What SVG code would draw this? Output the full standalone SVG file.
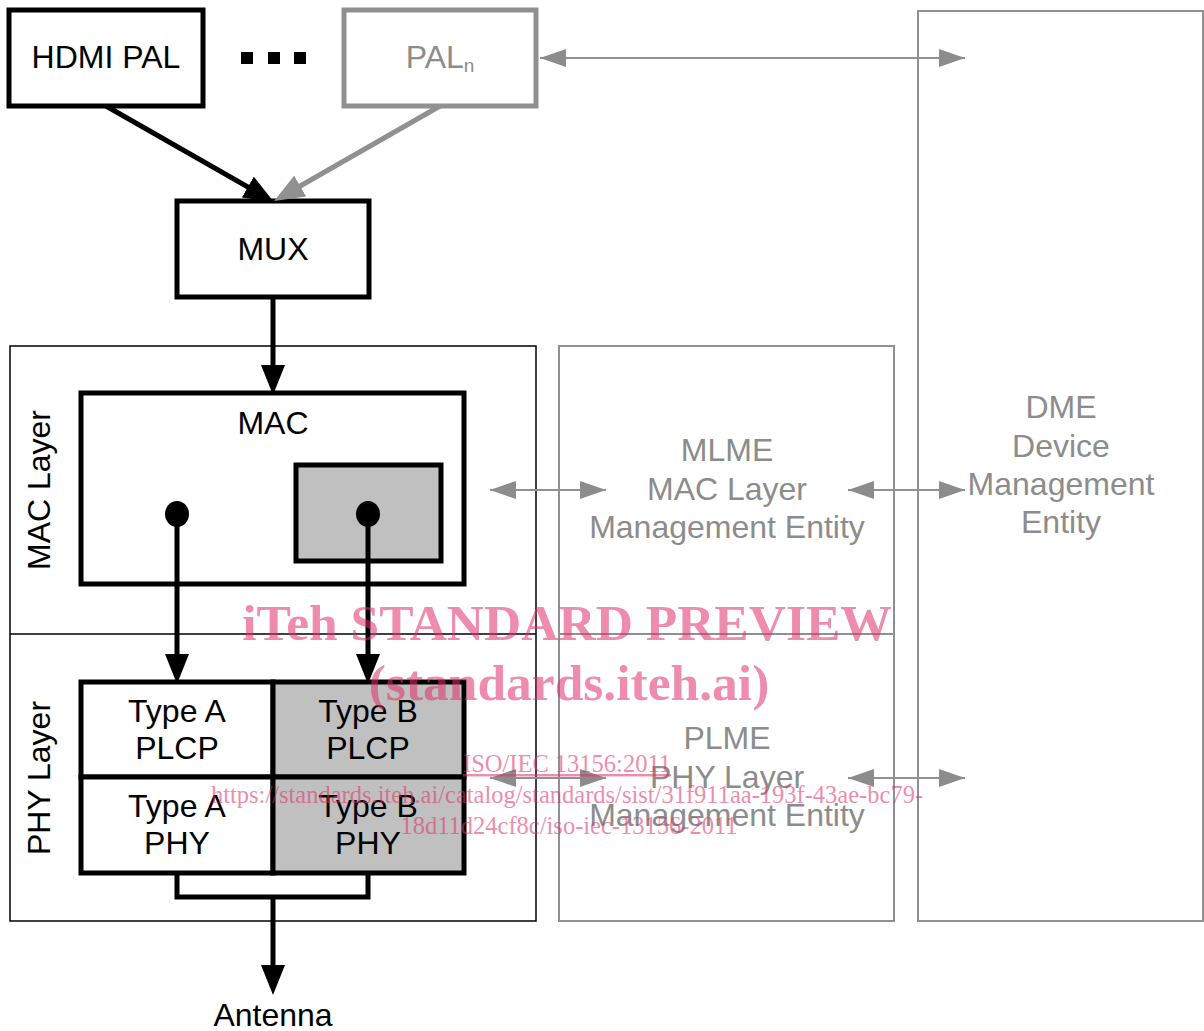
<svg xmlns="http://www.w3.org/2000/svg" width="1204" height="1031" viewBox="0 0 1204 1031">
<style>
.t{font-family:"Liberation Sans",Arial,sans-serif;font-size:32px;text-anchor:middle;fill:#000}
.g{fill:#8c8c8c}
.box{fill:#fff;stroke:#000;stroke-width:5}
.gbox{fill:#fff;stroke:#909090;stroke-width:2}
.shade{fill:#c0c0c0}
.thin{fill:none;stroke:#000;stroke-width:1.5}
.bl{fill:none;stroke:#000;stroke-width:5}
.gl{fill:none;stroke:#909090;stroke-width:2}
.wm{font-family:"Liberation Serif","Times New Roman",serif;fill:#e0306a;opacity:0.55;text-anchor:middle}
</style>
<defs>
<marker id="ab" markerUnits="userSpaceOnUse" markerWidth="30" markerHeight="24" refX="14" refY="12" orient="auto" viewBox="0 0 30 24"><path d="M0,0 L30,12 L0,24 z" fill="#000"/></marker>
<marker id="ag" markerUnits="userSpaceOnUse" markerWidth="30" markerHeight="24" refX="14" refY="12" orient="auto" viewBox="0 0 30 24"><path d="M0,0 L30,12 L0,24 z" fill="#909090"/></marker>
<marker id="ah" markerUnits="userSpaceOnUse" markerWidth="26" markerHeight="18" refX="26" refY="9" orient="auto-start-reverse" viewBox="0 0 26 18"><path d="M0,0 L26,9 L0,18 z" fill="#8c8c8c"/></marker>
</defs>

<g id="layer-frames">
<rect class="thin" x="10" y="346" width="526" height="575"/>
<line class="thin" x1="10" y1="634" x2="536" y2="634"/>
<text class="t" transform="translate(50,490) rotate(-90)">MAC Layer</text>
<text class="t" transform="translate(50,778) rotate(-90)">PHY Layer</text>
</g>

<g id="mlme-plme">
<rect class="gbox" x="559" y="346" width="335" height="575"/>
<line class="gl" x1="559" y1="634" x2="894" y2="634"/>
<text class="t g" x="727" y="461">MLME</text>
<text class="t g" x="727" y="500">MAC Layer</text>
<text class="t g" x="727" y="538">Management Entity</text>
<text class="t g" x="727" y="749">PLME</text>
<text class="t g" x="727" y="788">PHY Layer</text>
<text class="t g" x="727" y="826">Management Entity</text>
</g>

<g id="dme">
<rect class="gbox" x="918" y="11" width="285" height="910"/>
<text class="t g" x="1061" y="418">DME</text>
<text class="t g" x="1061" y="457">Device</text>
<text class="t g" x="1061" y="495">Management</text>
<text class="t g" x="1061" y="533">Entity</text>
</g>

<g id="hdmi-pal">
<rect class="box" x="9" y="10" width="194" height="96"/>
<text class="t" x="106" y="68">HDMI PAL</text>
</g>

<g id="ellipsis">
<rect x="241" y="52" width="12" height="12" fill="#000"/>
<rect x="268" y="52" width="12" height="12" fill="#000"/>
<rect x="294" y="52" width="12" height="12" fill="#000"/>
</g>

<g id="pal-n">
<rect x="344" y="10" width="192" height="96" fill="#fff" stroke="#909090" stroke-width="5"/>
<text class="t g" x="440" y="68">PAL<tspan font-size="19" dy="4">n</tspan></text>
</g>

<g id="mux">
<rect class="box" x="177" y="201" width="192" height="96"/>
<text class="t" x="273" y="260">MUX</text>
</g>

<g id="mac">
<rect class="box" x="81" y="393" width="383" height="191"/>
<text class="t" x="273" y="434">MAC</text>
<rect class="box shade" x="296" y="465" width="145" height="96"/>
</g>

<g id="phy-grid">
<rect class="box" x="81" y="682" width="192" height="95"/>
<rect class="box shade" x="273" y="682" width="191" height="95"/>
<rect class="box" x="81" y="777" width="192" height="96"/>
<rect class="box shade" x="273" y="777" width="191" height="96"/>
<text class="t" x="177" y="722">Type A</text>
<text class="t" x="177" y="759">PLCP</text>
<text class="t" x="368" y="722">Type B</text>
<text class="t" x="368" y="759">PLCP</text>
<text class="t" x="177" y="817">Type A</text>
<text class="t" x="177" y="854">PHY</text>
<text class="t" x="368" y="817">Type B</text>
<text class="t" x="368" y="854">PHY</text>
</g>

<g id="antenna">
<text class="t" x="273" y="1026">Antenna</text>
</g>

<g id="connectors">
<line class="bl" x1="106" y1="106" x2="260" y2="194" marker-end="url(#ab)"/>
<line x1="440" y1="106" x2="288" y2="193" stroke="#909090" stroke-width="5" marker-end="url(#ag)"/>
<line class="bl" x1="273" y1="297" x2="273" y2="379" marker-end="url(#ab)"/>
<ellipse cx="177" cy="514" rx="12" ry="13" fill="#000"/>
<ellipse cx="368" cy="514" rx="12" ry="13" fill="#000"/>
<line class="bl" x1="177" y1="514" x2="177" y2="668" marker-end="url(#ab)"/>
<line class="bl" x1="368" y1="514" x2="368" y2="668" marker-end="url(#ab)"/>
<polyline class="bl" points="177,873 177,897 368,897 368,873"/>
<line class="bl" x1="273" y1="897" x2="273" y2="979" marker-end="url(#ab)"/>
<line class="gl" x1="540" y1="58" x2="965" y2="58" marker-start="url(#ah)" marker-end="url(#ah)"/>
<line class="gl" x1="490" y1="490" x2="606" y2="490" marker-start="url(#ah)" marker-end="url(#ah)"/>
<line class="gl" x1="848" y1="490" x2="965" y2="490" marker-start="url(#ah)" marker-end="url(#ah)"/>
<line class="gl" x1="490" y1="778" x2="606" y2="778" marker-start="url(#ah)" marker-end="url(#ah)"/>
<line class="gl" x1="848" y1="778" x2="965" y2="778" marker-start="url(#ah)" marker-end="url(#ah)"/>
</g>

<g id="watermark">
<text class="wm" x="567" y="640" font-size="51.5" font-weight="bold">iTeh STANDARD PREVIEW</text>
<text class="wm" x="569" y="700" font-size="51.5" font-weight="bold">(standards.iteh.ai)</text>
<text class="wm" x="567" y="772" font-size="24.5" text-decoration="underline">ISO/IEC 13156:2011</text>
<text class="wm" x="567" y="803" font-size="24.5">https://standards.iteh.ai/catalog/standards/sist/31f911aa-193f-43ae-bc79-</text>
<text class="wm" x="569" y="834" font-size="24.5">18d11d24cf8c/iso-iec-13156-2011</text>
</g>
</svg>
